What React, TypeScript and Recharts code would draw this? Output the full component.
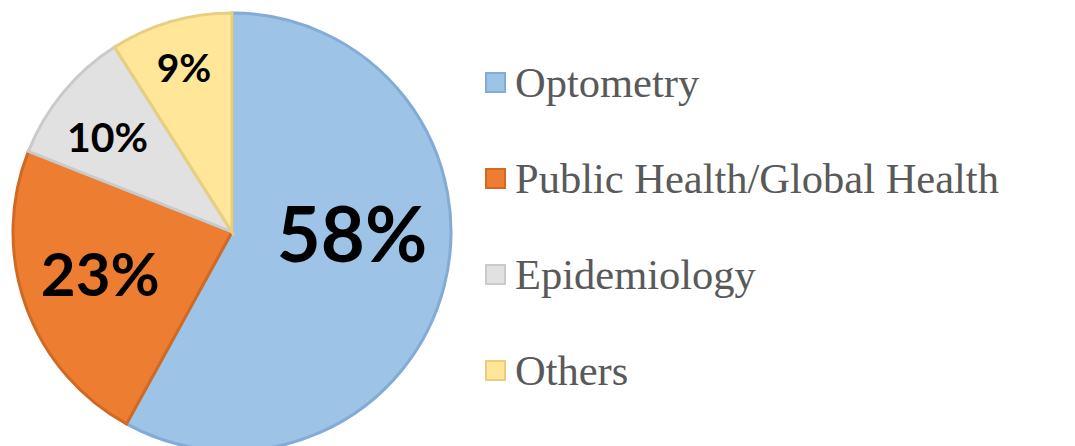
import React from "react";
import { PieChart, Pie, Cell, Legend } from "recharts";

const fields = ["Optometry", "Public Health/Global Health", "Epidemiology", "Others"];
const shares = [58, 23, 10, 9];

const fills = ["#9DC3E6", "#ED7D31", "#E1E1E1", "#FFE699"];
const strokes = ["#82ABD6", "#D06A22", "#CACACA", "#E8CF80"];
// label placement tweaks (radius in px, angle shift in degrees, font size)
const labelRadius = [120, 138, 157, 172];
const labelShift = [14.4, -2.5, 2, 0];
const labelSize = [76, 60, 41, 39];

const data = fields.map((name, i) => ({ name, value: shares[i] }));

const RADIAN = Math.PI / 180;

const renderLabel = (props: any) => {
  const { cx, cy, midAngle, index, value } = props;
  const a = (midAngle + labelShift[index]) * RADIAN;
  const x = cx + labelRadius[index] * Math.cos(a);
  const y = cy - labelRadius[index] * Math.sin(a);
  return (
    <text
      x={x}
      y={y}
      textAnchor="middle"
      dominantBaseline="central"
      fill="#000"
      fontFamily="Lato, sans-serif"
      fontWeight={700}
      fontSize={labelSize[index]}
    >
      {`${value}%`}
    </text>
  );
};

// legend keeps the data order (recharts would sort it by name)
const renderLegend = () => (
  <div>
    {data.map((d, i) => (
      <div
        key={d.name}
        style={{ display: "flex", alignItems: "center", height: 96 }}
      >
        <span
          style={{
            width: 17,
            height: 17,
            background: fills[i],
            border: `2px solid ${strokes[i]}`,
            marginRight: 9,
            flexShrink: 0,
          }}
        />
        <span
          style={{
            fontFamily: "'Liberation Serif', serif",
            fontSize: 42.5,
            color: "#595959",
            whiteSpace: "nowrap",
          }}
        >
          {d.name}
        </span>
      </div>
    ))}
  </div>
);

export default function App() {
  return (
    <div style={{ position: "absolute", left: 0, top: 0, background: "#fff" }}>
      <PieChart width={1075} height={446}>
        <Pie
          data={data}
          dataKey="value"
          nameKey="name"
          cx={227}
          cy={227}
          outerRadius={219}
          startAngle={90}
          endAngle={-270}
          strokeWidth={3}
          label={renderLabel}
          labelLine={false}
          isAnimationActive={false}
        >
          {data.map((d, i) => (
            <Cell key={d.name} fill={fills[i]} stroke={strokes[i]} />
          ))}
        </Pie>
        <Legend
          layout="vertical"
          content={renderLegend}
          wrapperStyle={{ left: 485, top: 34, width: 590 }}
        />
      </PieChart>
    </div>
  );
}
